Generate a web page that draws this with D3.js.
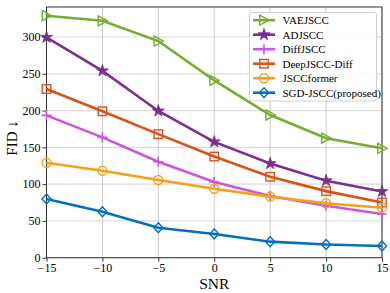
<!DOCTYPE html>
<html><head><meta charset="utf-8">
<script src="https://cdn.jsdelivr.net/npm/d3@7"></script>
<style>body{margin:0;background:#fff}svg{display:block}</style>
</head><body>
<script>
const snr = [-15, -10, -5, 0, 5, 10, 15];
const vaejscc = [329, 322, 294.5, 241, 194, 162.5, 148.7];
const adjscc = [299.6, 254, 199.5, 157.5, 128, 104.7, 90];
const diffjscc = [193.5, 163.6, 130.5, 103, 84, 70.7, 59.4];
const deepjsccDiff = [229.3, 199, 168, 137.5, 110, 90.5, 75];
const jsccformer = [129, 118.3, 105.6, 93.8, 83, 74, 68];
const sgdjscc = [79.8, 62.5, 40.8, 32.3, 21.8, 18, 15.9];
const xTicks = [-15, -10, -5, 0, 5, 10, 15];
const yTicks = [0, 50, 100, 150, 200, 250, 300];

const series = [
  {name: "VAEJSCC", values: vaejscc, color: "#77ac30", marker: "triR"},
  {name: "ADJSCC", values: adjscc, color: "#7e2f8e", marker: "star"},
  {name: "DiffJSCC", values: diffjscc, color: "#cc55dd", marker: "plus"},
  {name: "DeepJSCC-Diff", values: deepjsccDiff, color: "#d95319", marker: "square"},
  {name: "JSCCformer", values: jsccformer, color: "#f5a01a", marker: "circle"},
  {name: "SGD-JSCC(proposed)", values: sgdjscc, color: "#0072bd", marker: "diamond"}
];

const W = 390, H = 293;
const m = {l: 46.5, r: 8, t: 7, b: 35.3};
const svg = d3.select("body").append("svg").attr("width", W).attr("height", H)
  .style("font-family", "'Liberation Serif', 'Times New Roman', serif");

const x = d3.scaleLinear().domain([-15, 15]).range([m.l, W - m.r]);
const y = d3.scaleLinear().domain([0, 340.8]).range([H - m.b, m.t]);

// grid
const g = svg.append("g");
g.selectAll(".hg").data(yTicks).join("line")
  .attr("x1", m.l).attr("x2", W - m.r).attr("y1", d => y(d)).attr("y2", d => y(d))
  .attr("stroke", "#dcdcdc").attr("stroke-width", 1.2);
g.selectAll(".vg").data(xTicks).join("line")
  .attr("y1", m.t).attr("y2", H - m.b).attr("x1", d => x(d)).attr("x2", d => x(d))
  .attr("stroke", "#c4c4c4").attr("stroke-width", 0.9);

// axes
const fmt = d => d < 0 ? "\u2212" + Math.abs(d) : String(d);
const xa = svg.append("g").attr("transform", `translate(0,${H - m.b})`)
  .call(d3.axisBottom(x).tickValues(xTicks).tickFormat(fmt).tickSize(4).tickPadding(2));
const ya = svg.append("g").attr("transform", `translate(${m.l},0)`)
  .call(d3.axisLeft(y).tickValues(yTicks).tickSize(4).tickPadding(2));
[xa, ya].forEach(a => {
  a.select(".domain").remove();
  a.selectAll("text").attr("font-size", 12).attr("fill", "#000").style("font-family", "'Liberation Serif', serif");
  a.selectAll("line").attr("stroke", "#333");
});
svg.append("rect").attr("x", m.l).attr("y", m.t).attr("width", W - m.r - m.l).attr("height", H - m.b - m.t)
  .attr("fill", "none").attr("stroke", "#333").attr("stroke-width", 1);

svg.append("text").attr("x", x(0)).attr("y", 288.5).attr("text-anchor", "middle")
  .attr("font-size", 15.5).text("SNR");
svg.append("text").attr("transform", `translate(16.5,138) rotate(-90)`)
  .attr("text-anchor", "middle").attr("font-size", 15).text("FID \u2193");

function drawMarker(sel, type, color, s) {
  const r = s / 2;
  if (type === "triR") {
    sel.append("path").attr("d", `M${-r * 0.85},${-r}L${r},0L${-r * 0.85},${r}Z`)
      .attr("fill", "none").attr("stroke", color).attr("stroke-width", 1.4);
  } else if (type === "star") {
    sel.append("path").attr("d", d3.symbol(d3.symbolStar, s * s * 0.45)())
      .attr("fill", color).attr("stroke", color).attr("stroke-width", 0.8);
  } else if (type === "plus") {
    sel.append("path").attr("d", `M${-r},0H${r}M0,${-r}V${r}`)
      .attr("stroke", color).attr("stroke-width", 1.6).attr("fill", "none");
  } else if (type === "square") {
    sel.append("rect").attr("x", -r * 0.85).attr("y", -r * 0.85).attr("width", r * 1.7).attr("height", r * 1.7)
      .attr("fill", "none").attr("stroke", color).attr("stroke-width", 1.4);
  } else if (type === "circle") {
    sel.append("circle").attr("r", r * 0.9).attr("fill", "none").attr("stroke", color).attr("stroke-width", 1.4);
  } else if (type === "diamond") {
    sel.append("path").attr("d", `M0,${-r}L${r * 0.9},0L0,${r}L${-r * 0.9},0Z`)
      .attr("fill", "none").attr("stroke", color).attr("stroke-width", 1.4);
  }
}

const line = d3.line().x((d, i) => x(snr[i])).y(d => y(d));
series.forEach(s => {
  svg.append("path").datum(s.values).attr("d", line).attr("fill", "none")
    .attr("stroke", s.color).attr("stroke-width", 2.6);
  s.values.forEach((v, i) => {
    const mg = svg.append("g").attr("transform", `translate(${x(snr[i])},${y(v)})`);
    drawMarker(mg, s.marker, s.color, 10);
  });
});

// legend
const lg = svg.append("g");
lg.append("rect").attr("x", 249.5).attr("y", 12.5).attr("width", 127).attr("height", 88.5).attr("rx", 2.5)
  .attr("fill", "#fff").attr("fill-opacity", 0.85).attr("stroke", "#d0d0d0").attr("stroke-width", 1);
series.forEach((s, i) => {
  const yy = 20.2 + i * 14.5;
  lg.append("line").attr("x1", 253).attr("x2", 275).attr("y1", yy).attr("y2", yy)
    .attr("stroke", s.color).attr("stroke-width", 2.6);
  const mg = lg.append("g").attr("transform", `translate(264,${yy})`);
  drawMarker(mg, s.marker, s.color, 10);
  lg.append("text").attr("x", 282.5).attr("y", yy + 3.8).attr("font-size", 11).text(s.name);
});
</script>
</body></html>
